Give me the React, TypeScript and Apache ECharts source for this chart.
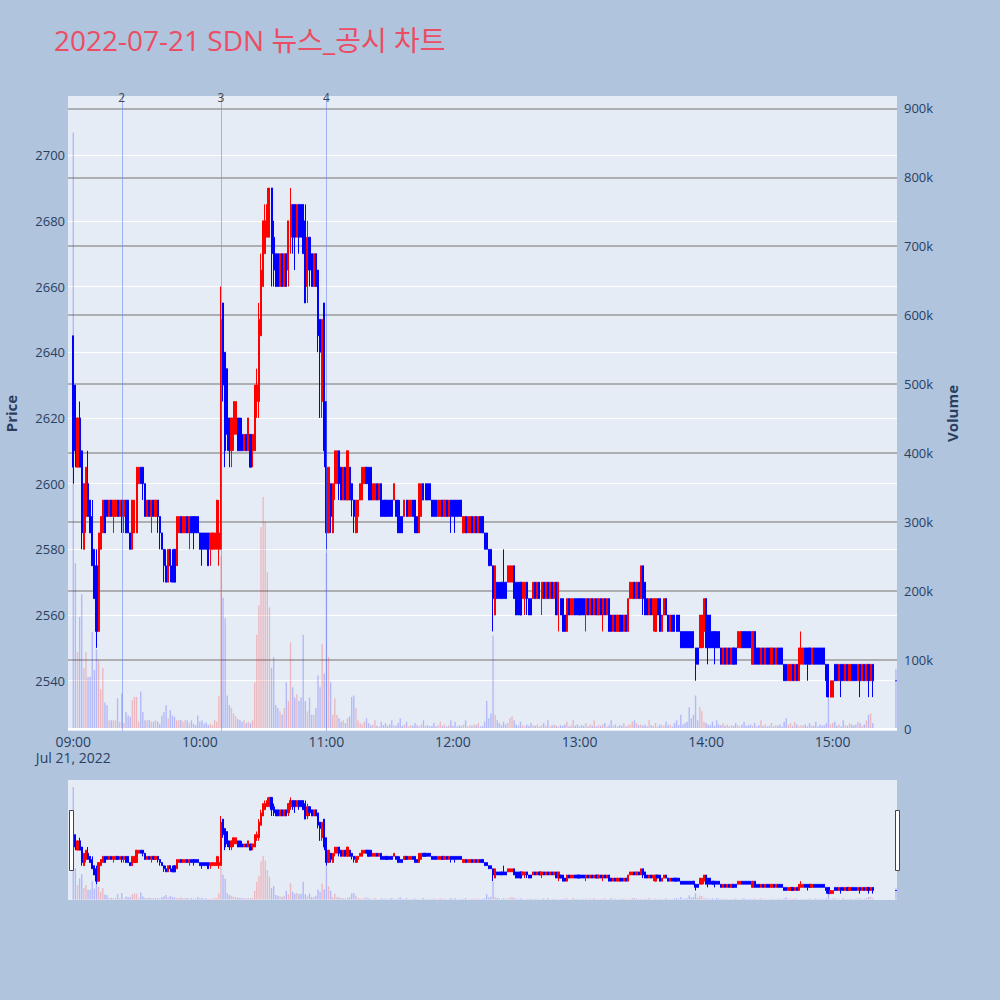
import React, { useEffect, useRef } from 'react';
import * as echarts from 'echarts';

// 1분봉 [open, close, low, high], 09:00 ~ 15:19
const candles: number[][] = [
  // 09:00
  [2645, 2605, 2600, 2645], [2630, 2610, 2605, 2630], [2605, 2620, 2605, 2620], [2620, 2605, 2605, 2625], [2610, 2585, 2580, 2610],
  [2580, 2600, 2580, 2600], [2590, 2605, 2585, 2605], [2600, 2590, 2590, 2610], [2595, 2585, 2585, 2595], [2590, 2575, 2575, 2595],
  // 09:10
  [2580, 2565, 2565, 2580], [2575, 2555, 2550, 2580], [2555, 2585, 2555, 2585], [2580, 2590, 2580, 2590], [2585, 2595, 2585, 2595],
  [2595, 2585, 2585, 2595], [2595, 2590, 2590, 2595], [2590, 2595, 2590, 2595], [2595, 2590, 2590, 2595], [2590, 2595, 2585, 2595],
  // 09:20
  [2590, 2595, 2590, 2595], [2595, 2590, 2590, 2595], [2590, 2595, 2590, 2595], [2595, 2590, 2585, 2595], [2590, 2595, 2585, 2595],
  [2595, 2585, 2585, 2595], [2595, 2585, 2585, 2595], [2585, 2580, 2580, 2585], [2580, 2595, 2580, 2595], [2585, 2595, 2585, 2595],
  // 09:30
  [2585, 2605, 2585, 2605], [2600, 2605, 2600, 2605], [2605, 2600, 2600, 2605], [2605, 2600, 2595, 2605], [2600, 2590, 2590, 2600],
  [2590, 2595, 2590, 2595], [2595, 2590, 2590, 2595], [2590, 2595, 2585, 2595], [2595, 2590, 2590, 2595], [2590, 2595, 2590, 2595],
  // 09:40
  [2595, 2590, 2585, 2595], [2590, 2585, 2580, 2590], [2585, 2580, 2580, 2585], [2580, 2575, 2570, 2580], [2575, 2570, 2570, 2580],
  [2570, 2580, 2570, 2580], [2580, 2575, 2570, 2580], [2575, 2570, 2570, 2580], [2580, 2570, 2570, 2580], [2575, 2590, 2575, 2590],
  // 09:50
  [2585, 2590, 2585, 2590], [2590, 2585, 2585, 2590], [2585, 2590, 2585, 2590], [2585, 2590, 2585, 2590], [2590, 2585, 2585, 2590],
  [2585, 2590, 2580, 2590], [2590, 2585, 2585, 2590], [2590, 2585, 2580, 2590], [2590, 2585, 2585, 2590], [2590, 2585, 2585, 2590],
  // 10:00
  [2585, 2580, 2580, 2585], [2585, 2580, 2575, 2585], [2585, 2580, 2580, 2585], [2585, 2580, 2580, 2585], [2585, 2575, 2575, 2585],
  [2580, 2585, 2575, 2585], [2580, 2585, 2580, 2585], [2580, 2585, 2580, 2585], [2580, 2595, 2580, 2595], [2580, 2585, 2575, 2595],
  // 10:10
  [2580, 2650, 2580, 2660], [2655, 2630, 2625, 2655], [2640, 2610, 2605, 2640], [2635, 2615, 2610, 2635], [2620, 2610, 2605, 2620],
  [2610, 2620, 2605, 2620], [2615, 2625, 2610, 2625], [2615, 2625, 2615, 2625], [2620, 2610, 2610, 2620], [2620, 2610, 2610, 2620],
  // 10:20
  [2615, 2610, 2610, 2620], [2610, 2615, 2610, 2615], [2615, 2610, 2610, 2615], [2610, 2620, 2610, 2620], [2615, 2605, 2605, 2615],
  [2610, 2615, 2605, 2615], [2610, 2630, 2610, 2630], [2625, 2630, 2620, 2635], [2625, 2650, 2620, 2655], [2645, 2665, 2645, 2670],
  // 10:30
  [2660, 2680, 2660, 2680], [2670, 2680, 2670, 2685], [2675, 2685, 2675, 2690], [2675, 2690, 2675, 2690], [2690, 2670, 2660, 2690],
  [2675, 2665, 2660, 2680], [2670, 2660, 2660, 2670], [2670, 2660, 2660, 2670], [2660, 2670, 2660, 2670], [2670, 2660, 2660, 2670],
  // 10:40
  [2660, 2670, 2660, 2670], [2670, 2660, 2660, 2670], [2665, 2680, 2660, 2680], [2675, 2685, 2670, 2690], [2685, 2675, 2670, 2685],
  [2685, 2675, 2665, 2685], [2675, 2685, 2675, 2685], [2685, 2675, 2670, 2685], [2685, 2675, 2675, 2685], [2685, 2670, 2670, 2685],
  // 10:50
  [2680, 2655, 2655, 2685], [2660, 2675, 2655, 2680], [2675, 2665, 2660, 2675], [2670, 2660, 2660, 2670], [2660, 2670, 2660, 2670],
  [2670, 2660, 2660, 2670], [2665, 2645, 2640, 2665], [2650, 2640, 2620, 2650], [2625, 2650, 2620, 2650], [2655, 2610, 2605, 2655],
  // 11:00
  [2625, 2585, 2580, 2625], [2585, 2605, 2585, 2605], [2600, 2590, 2585, 2600], [2585, 2600, 2585, 2600], [2600, 2610, 2595, 2610],
  [2600, 2610, 2600, 2610], [2610, 2600, 2595, 2610], [2605, 2595, 2595, 2605], [2595, 2605, 2595, 2605], [2605, 2595, 2595, 2605],
  // 11:10
  [2595, 2610, 2595, 2610], [2605, 2595, 2595, 2605], [2600, 2595, 2590, 2600], [2595, 2590, 2585, 2595], [2585, 2595, 2585, 2595],
  [2590, 2595, 2585, 2595], [2595, 2600, 2595, 2600], [2595, 2605, 2595, 2605], [2600, 2605, 2600, 2605], [2605, 2600, 2600, 2605],
  // 11:20
  [2605, 2595, 2595, 2605], [2605, 2595, 2595, 2605], [2595, 2600, 2595, 2600], [2595, 2600, 2595, 2600], [2600, 2595, 2595, 2600],
  [2595, 2600, 2595, 2600], [2600, 2590, 2590, 2600], [2595, 2590, 2590, 2595], [2595, 2590, 2590, 2595], [2595, 2590, 2590, 2595],
  // 11:30
  [2595, 2590, 2590, 2595], [2595, 2590, 2590, 2595], [2595, 2600, 2595, 2600], [2595, 2590, 2590, 2595], [2595, 2585, 2585, 2595],
  [2590, 2585, 2585, 2595], [2590, 2585, 2585, 2590], [2590, 2595, 2590, 2595], [2595, 2590, 2590, 2595], [2590, 2595, 2590, 2595],
  // 11:40
  [2590, 2595, 2590, 2595], [2595, 2590, 2590, 2595], [2595, 2585, 2585, 2595], [2590, 2585, 2585, 2590], [2585, 2600, 2585, 2600],
  [2590, 2600, 2590, 2600], [2600, 2595, 2595, 2600], [2600, 2595, 2595, 2600], [2600, 2595, 2595, 2600], [2600, 2595, 2595, 2600],
  // 11:50
  [2595, 2590, 2590, 2595], [2595, 2590, 2590, 2595], [2595, 2590, 2590, 2595], [2590, 2595, 2590, 2595], [2590, 2595, 2590, 2595],
  [2595, 2590, 2590, 2595], [2590, 2595, 2590, 2595], [2595, 2590, 2590, 2595], [2590, 2595, 2590, 2595], [2595, 2590, 2585, 2595],
  // 12:00
  [2595, 2590, 2590, 2595], [2595, 2590, 2585, 2595], [2595, 2590, 2590, 2595], [2595, 2590, 2590, 2595], [2595, 2590, 2590, 2595],
  [2585, 2590, 2585, 2590], [2590, 2585, 2585, 2590], [2585, 2590, 2585, 2590], [2585, 2590, 2585, 2590], [2590, 2585, 2585, 2590],
  // 12:10
  [2585, 2590, 2585, 2590], [2590, 2585, 2585, 2590], [2585, 2590, 2585, 2590], [2590, 2585, 2585, 2590], [2590, 2585, 2585, 2590],
  [2585, 2580, 2580, 2585], [2585, 2580, 2580, 2585], [2580, 2575, 2575, 2580], [2580, 2575, 2575, 2580], [2575, 2565, 2555, 2575],
  // 12:20
  [2560, 2575, 2560, 2575], [2570, 2565, 2565, 2570], [2570, 2565, 2565, 2570], [2570, 2565, 2565, 2570], [2570, 2565, 2565, 2580],
  [2570, 2565, 2565, 2570], [2570, 2575, 2570, 2575], [2570, 2575, 2570, 2575], [2570, 2575, 2570, 2575], [2575, 2565, 2565, 2575],
  // 12:30
  [2570, 2560, 2560, 2570], [2570, 2560, 2560, 2570], [2570, 2560, 2560, 2570], [2565, 2570, 2565, 2570], [2565, 2570, 2560, 2570],
  [2570, 2565, 2560, 2570], [2565, 2560, 2560, 2565], [2565, 2560, 2560, 2565], [2565, 2570, 2565, 2570], [2570, 2565, 2565, 2570],
  // 12:40
  [2565, 2570, 2565, 2570], [2570, 2565, 2565, 2570], [2565, 2570, 2560, 2570], [2570, 2565, 2565, 2570], [2565, 2570, 2565, 2570],
  [2570, 2565, 2565, 2570], [2565, 2570, 2565, 2570], [2570, 2565, 2565, 2570], [2565, 2570, 2565, 2570], [2570, 2560, 2560, 2570],
  // 12:50
  [2560, 2570, 2555, 2570], [2565, 2560, 2560, 2565], [2565, 2555, 2555, 2565], [2560, 2555, 2555, 2560], [2555, 2565, 2555, 2565],
  [2565, 2560, 2560, 2565], [2560, 2565, 2560, 2565], [2560, 2565, 2560, 2565], [2565, 2560, 2560, 2565], [2565, 2560, 2560, 2565],
  // 13:00
  [2565, 2560, 2560, 2565], [2565, 2560, 2560, 2565], [2565, 2560, 2560, 2565], [2560, 2565, 2555, 2565], [2565, 2560, 2560, 2565],
  [2560, 2565, 2560, 2565], [2565, 2560, 2560, 2565], [2560, 2565, 2560, 2565], [2565, 2560, 2560, 2565], [2560, 2565, 2560, 2565],
  // 13:10
  [2565, 2560, 2560, 2565], [2560, 2565, 2555, 2565], [2565, 2560, 2560, 2565], [2560, 2565, 2560, 2565], [2565, 2555, 2555, 2565],
  [2560, 2555, 2555, 2560], [2555, 2560, 2555, 2560], [2560, 2555, 2555, 2560], [2555, 2560, 2555, 2560], [2560, 2555, 2555, 2560],
  // 13:20
  [2560, 2555, 2555, 2560], [2555, 2560, 2555, 2560], [2560, 2555, 2555, 2560], [2555, 2565, 2555, 2565], [2565, 2570, 2565, 2570],
  [2565, 2570, 2565, 2570], [2570, 2565, 2565, 2570], [2565, 2570, 2565, 2570], [2570, 2565, 2565, 2570], [2565, 2575, 2565, 2575],
  // 13:30
  [2575, 2565, 2560, 2575], [2570, 2560, 2560, 2570], [2565, 2560, 2560, 2565], [2560, 2565, 2560, 2565], [2565, 2560, 2560, 2565],
  [2560, 2565, 2555, 2565], [2555, 2565, 2555, 2565], [2565, 2560, 2560, 2565], [2565, 2555, 2555, 2565], [2555, 2560, 2555, 2560],
  // 13:40
  [2560, 2565, 2560, 2565], [2565, 2560, 2560, 2565], [2560, 2555, 2555, 2560], [2555, 2560, 2555, 2560], [2560, 2555, 2555, 2560],
  [2560, 2555, 2555, 2560], [2560, 2555, 2555, 2560], [2560, 2555, 2555, 2560], [2555, 2550, 2550, 2555], [2555, 2550, 2550, 2555],
  // 13:50
  [2555, 2550, 2550, 2555], [2555, 2550, 2550, 2555], [2555, 2550, 2550, 2555], [2555, 2550, 2550, 2555], [2555, 2550, 2550, 2555],
  [2550, 2545, 2540, 2550], [2550, 2545, 2545, 2550], [2550, 2560, 2550, 2560], [2550, 2560, 2550, 2560], [2555, 2565, 2550, 2565],
  // 14:00
  [2565, 2550, 2550, 2565], [2560, 2550, 2545, 2560], [2560, 2550, 2550, 2560], [2555, 2550, 2550, 2555], [2555, 2550, 2545, 2555],
  [2555, 2550, 2550, 2555], [2555, 2550, 2550, 2555], [2550, 2545, 2545, 2550], [2545, 2550, 2545, 2550], [2550, 2545, 2545, 2550],
  // 14:10
  [2545, 2550, 2545, 2550], [2550, 2545, 2545, 2550], [2545, 2550, 2545, 2550], [2550, 2545, 2545, 2550], [2550, 2545, 2545, 2550],
  [2550, 2555, 2550, 2555], [2550, 2555, 2550, 2555], [2555, 2550, 2550, 2555], [2555, 2550, 2550, 2555], [2555, 2550, 2550, 2555],
  // 14:20
  [2555, 2550, 2550, 2555], [2555, 2550, 2550, 2555], [2545, 2555, 2545, 2555], [2555, 2545, 2545, 2555], [2550, 2545, 2545, 2550],
  [2550, 2545, 2545, 2550], [2545, 2550, 2545, 2550], [2550, 2545, 2545, 2550], [2545, 2550, 2545, 2550], [2550, 2545, 2545, 2550],
  // 14:30
  [2550, 2545, 2545, 2550], [2545, 2550, 2545, 2550], [2550, 2545, 2545, 2550], [2545, 2550, 2545, 2550], [2550, 2545, 2545, 2550],
  [2550, 2545, 2545, 2550], [2550, 2545, 2545, 2550], [2545, 2540, 2540, 2545], [2545, 2540, 2540, 2545], [2540, 2545, 2540, 2545],
  // 14:40
  [2540, 2545, 2540, 2545], [2545, 2540, 2540, 2545], [2540, 2545, 2540, 2545], [2545, 2540, 2540, 2545], [2540, 2550, 2540, 2550],
  [2545, 2550, 2545, 2555], [2545, 2550, 2545, 2550], [2550, 2545, 2545, 2550], [2550, 2545, 2540, 2550], [2550, 2545, 2545, 2550],
  // 14:50
  [2545, 2550, 2545, 2550], [2550, 2545, 2545, 2550], [2550, 2545, 2545, 2550], [2550, 2545, 2545, 2550], [2550, 2545, 2545, 2550],
  [2550, 2545, 2545, 2550], [2550, 2545, 2545, 2550], [2545, 2540, 2535, 2545], [2545, 2535, 2535, 2545], [2535, 2540, 2535, 2540],
  // 15:00
  [2535, 2540, 2535, 2540], [2545, 2540, 2540, 2545], [2545, 2540, 2540, 2545], [2540, 2545, 2540, 2545], [2545, 2540, 2535, 2545],
  [2545, 2540, 2540, 2545], [2540, 2545, 2540, 2545], [2545, 2540, 2540, 2545], [2540, 2545, 2540, 2545], [2545, 2540, 2540, 2545],
  // 15:10
  [2545, 2540, 2540, 2545], [2545, 2540, 2540, 2545], [2540, 2545, 2540, 2545], [2545, 2540, 2535, 2545], [2540, 2545, 2540, 2545],
  [2545, 2540, 2540, 2545], [2540, 2545, 2540, 2545], [2545, 2540, 2535, 2545], [2540, 2545, 2540, 2545], [2545, 2540, 2535, 2545],
];

// 거래량 (천주), 09:00 ~ 15:19
const volumesK: number[] = [
  865, 240, 111, 162, 195, 88, 111, 75, 75, 140,
  85, 115, 99, 57, 88, 38, 34, 12, 12, 12,
  12, 44, 10, 51, 8, 24, 19, 17, 41, 46,
  46, 10, 54, 24, 12, 12, 13, 10, 10, 12,
  10, 7, 19, 24, 34, 15, 27, 19, 17, 12,
  12, 13, 10, 12, 12, 8, 12, 7, 5, 19,
  10, 12, 7, 9, 5, 7, 5, 12, 10, 47,
  250, 190, 160, 48, 34, 30, 22, 18, 14, 12,
  10, 12, 8, 10, 8, 12, 67, 136, 179, 292,
  336, 300, 227, 176, 88, 104, 34, 30, 25, 20,
  30, 67, 40, 125, 60, 45, 50, 40, 45, 136,
  40, 25, 45, 20, 20, 30, 77, 60, 123, 80,
  255, 104, 67, 20, 44, 20, 15, 10, 12, 8,
  15, 18, 46, 48, 30, 12, 8, 6, 10, 15,
  8, 5, 6, 12, 4, 3, 10, 5, 8, 4,
  6, 12, 5, 4, 8, 15, 4, 6, 10, 3,
  5, 4, 8, 5, 3, 6, 12, 4, 5, 3,
  4, 8, 3, 5, 10, 4, 6, 3, 5, 12,
  4, 10, 3, 5, 4, 6, 12, 3, 5, 4,
  6, 5, 8, 3, 4, 10, 40, 15, 22, 135,
  20, 12, 8, 5, 10, 6, 8, 15, 18, 12,
  6, 4, 10, 5, 3, 6, 4, 8, 5, 4,
  6, 3, 5, 8, 4, 12, 3, 5, 6, 4,
  3, 5, 4, 6, 10, 3, 5, 12, 4, 6,
  3, 5, 4, 8, 3, 6, 4, 12, 3, 5,
  4, 6, 8, 3, 5, 12, 4, 6, 3, 5,
  4, 8, 3, 5, 6, 10, 12, 8, 5, 6,
  4, 6, 3, 12, 5, 4, 8, 3, 6, 5,
  4, 10, 5, 6, 3, 8, 12, 5, 20, 6,
  8, 10, 31, 15, 20, 48, 12, 31, 25, 10,
  8, 6, 5, 10, 4, 12, 6, 5, 8, 4,
  6, 3, 5, 4, 8, 5, 3, 6, 10, 4,
  5, 6, 4, 8, 3, 5, 12, 4, 6, 3,
  4, 8, 3, 5, 4, 6, 3, 10, 15, 5,
  8, 4, 10, 6, 3, 5, 4, 6, 3, 8,
  5, 4, 10, 3, 6, 4, 5, 8, 44, 6,
  8, 10, 4, 6, 3, 12, 5, 4, 8, 6,
  5, 6, 10, 8, 4, 6, 12, 20, 22, 8,
];

// 15:30 동시호가
const closeTime = '15:30';
const closeCandle = [2540, 2540, 2540, 2540];
const closeVolumeK = 87;

// 뉴스/공시 시점
const newsTimes = ['09:23', '10:10', '11:00'];
const newsLabels = ['2', '3', '4'];

const pad = (n: number) => String(n).padStart(2, '0');
const categories: string[] = [];
for (let t = 8 * 60 + 58; t <= 15 * 60 + 30; t++) {
  categories.push(`${pad(Math.floor(t / 60))}:${pad(t % 60)}`);
}

const UP = '#ff0000';
const DOWN = '#0000ff';
const FONT = "'Open Sans', 'Noto Sans CJK KR', sans-serif";
const TICK_COLOR = '#2a3f5f';

const App: React.FC = () => {
  const chartRef = useRef<HTMLDivElement | null>(null);

  useEffect(() => {
    if (!chartRef.current) return;
    const chart = echarts.init(chartRef.current, undefined, { renderer: 'svg' });

    const start = categories.indexOf('09:00');
    const ohlc: any[] = [];
    const vol: any[] = [];
    const isUp: boolean[] = [];
    categories.forEach((c, i) => {
      const k = i - start;
      let cd: number[] | null = null;
      let v: number | null = null;
      if (c === closeTime) {
        cd = closeCandle;
        v = closeVolumeK;
      } else if (k >= 0 && k < candles.length) {
        cd = candles[k];
        v = volumesK[k];
      }
      ohlc.push(cd ? cd : ['-', '-', '-', '-']);
      vol.push(v != null ? v * 1000 : '-');
      isUp.push(cd ? cd[1] > cd[0] : false);
    });

    const volColor = (p: any) => (isUp[p.dataIndex] ? 'rgba(255,0,0,0.22)' : 'rgba(0,0,255,0.22)');
    const candleStyle = { color: UP, color0: DOWN, borderColor: UP, borderColor0: DOWN, borderWidth: 1 };

    const option: any = {
      animation: false,
      backgroundColor: '#B0C4DE',
      textStyle: { fontFamily: FONT },
      title: {
        text: '2022-07-21 SDN 뉴스_공시 차트',
        left: 49,
        top: 21,
        textStyle: { color: '#EB4D64', fontSize: 28, fontWeight: 'normal', fontFamily: FONT },
      },
      grid: [
        { left: 68, top: 96, width: 829, height: 635, show: true, backgroundColor: '#E5ECF6', borderWidth: 0, outerBoundsMode: 'none', containLabel: false },
        { left: 68, top: 780, width: 829, height: 120, show: true, backgroundColor: '#E5ECF6', borderWidth: 0, outerBoundsMode: 'none', containLabel: false },
      ],
      xAxis: [
        {
          type: 'category',
          gridIndex: 0,
          data: categories,
          boundaryGap: true,
          axisLine: { show: false },
          axisTick: { show: false },
          splitLine: { show: false },
          axisLabel: {
            interval: (_i: number, v: string) => v.endsWith(':00'),
            formatter: (v: string) => (v === '09:00' ? '09:00\nJul 21, 2022' : v),
            color: TICK_COLOR,
            fontSize: 14,
            lineHeight: 16,
            margin: 2,
          },
        },
        { type: 'category', gridIndex: 1, data: categories, boundaryGap: true, show: false },
      ],
      yAxis: [
        {
          type: 'value',
          gridIndex: 0,
          min: 2524.7,
          max: 2718,
          splitNumber: 10,
          name: 'Price',
          nameLocation: 'middle',
          nameGap: 50,
          nameTextStyle: { color: TICK_COLOR, fontSize: 15, fontWeight: 'bold' },
          axisLine: { show: false },
          axisTick: { show: false },
          axisLabel: {
            color: TICK_COLOR,
            fontSize: 13,
            margin: 3,
            showMinLabel: false,
            showMaxLabel: false,
            formatter: (v: number) => String(v),
          },
          splitLine: { lineStyle: { color: '#ffffff', width: 1 }, showMinLine: false, showMaxLine: false },
        },
        {
          type: 'value',
          gridIndex: 0,
          position: 'right',
          min: -3500,
          max: 918000,
          splitNumber: 9,
          name: 'Volume',
          nameLocation: 'middle',
          nameGap: 47,
          nameTextStyle: { color: TICK_COLOR, fontSize: 15, fontWeight: 'bold' },
          axisLine: { show: false },
          axisTick: { show: false },
          axisLabel: {
            color: TICK_COLOR,
            fontSize: 13,
            margin: 7,
            showMinLabel: false,
            showMaxLabel: false,
            formatter: (v: number) => (v === 0 ? '0' : `${Math.round(v / 1000)}k`),
          },
          splitLine: { lineStyle: { color: '#9b9b9b', width: 1.5 }, showMinLine: false, showMaxLine: false },
        },
        { type: 'value', gridIndex: 1, min: 2524.7, max: 2718, show: false, splitLine: { show: false } },
        { type: 'value', gridIndex: 1, min: -3500, max: 918000, show: false, splitLine: { show: false } },
      ],
      series: [
        {
          name: 'Volume',
          type: 'bar',
          xAxisIndex: 0,
          yAxisIndex: 1,
          data: vol,
          barWidth: '65%',
          itemStyle: { color: volColor },
          z: 1,
          markLine: {
            symbol: 'none',
            silent: true,
            animation: false,
            data: [
              { yAxis: 0, lineStyle: { color: '#ffffff', width: 2, type: 'solid' }, label: { show: false } },
              ...newsTimes.map((t, i) => ({
                xAxis: t,
                lineStyle: { color: 'rgba(90,120,240,0.5)', width: 1, type: 'solid' },
                label: { show: true, position: 'end', formatter: newsLabels[i], color: '#444', fontSize: 12, distance: -7 },
              })),
            ],
          },
        },
        {
          name: 'Price',
          type: 'candlestick',
          xAxisIndex: 0,
          yAxisIndex: 0,
          data: ohlc,
          barWidth: '75%',
          itemStyle: candleStyle,
          z: 3,
        },
        {
          type: 'bar',
          xAxisIndex: 1,
          yAxisIndex: 3,
          data: vol,
          barWidth: '65%',
          itemStyle: { color: volColor },
        },
        {
          type: 'candlestick',
          xAxisIndex: 1,
          yAxisIndex: 2,
          data: ohlc,
          barWidth: '80%',
          itemStyle: candleStyle,
          z: 3,
        },
      ],
      graphic: [
        { type: 'rect', left: 69, top: 810, shape: { width: 4, height: 60 }, style: { fill: '#ffffff', stroke: '#444', lineWidth: 1 }, z: 10 },
        { type: 'rect', left: 895, top: 810, shape: { width: 4, height: 60 }, style: { fill: '#ffffff', stroke: '#444', lineWidth: 1 }, z: 10 },
      ],
    };

    chart.setOption(option);
    return () => chart.dispose();
  }, []);

  return <div ref={chartRef} style={{ position: 'absolute', left: 0, top: 0, width: 1000, height: 1000 }} />;
};

export default App;
